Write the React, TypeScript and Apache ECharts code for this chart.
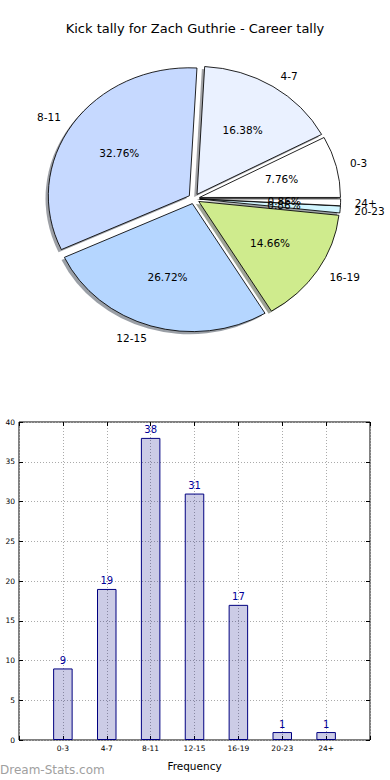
import React, { useEffect, useRef } from "react";
import * as echarts from "echarts";

const TITLE = "Kick tally for Zach Guthrie - Career tally";
const CATEGORIES = ["0-3", "4-7", "8-11", "12-15", "16-19", "20-23", "24+"];
const COUNTS = [9, 19, 38, 31, 17, 1, 1];
const PIE_COLORS = ["#ffffff", "#eaf1ff", "#c6d9ff", "#b5d6ff", "#cfeb8d", "#d2f6ff", "#ffffff"];
const X_AXIS_NAME = "Frequency";
const WATERMARK = "Dream-Stats.com";

const FONT = "'DejaVu Sans', sans-serif";

// pie geometry (elliptical, matplotlib style)
const CX = 194;
const CY = 198.7;
const RX = 141;
const RY = 128;
const EXPLODE = 0.04;
const SHADOW_DX = -0.02 * RX;
const SHADOW_DY = 0.02 * RY;

const TOTAL = COUNTS.reduce((a, b) => a + b, 0);
const STARTS: number[] = [];
{
  let acc = 0;
  COUNTS.forEach((v) => {
    STARTS.push(acc);
    acc += v;
  });
}

function shade(hex: string, f: number) {
  const n = parseInt(hex.slice(1), 16);
  const r = Math.round(((n >> 16) & 255) * f);
  const g = Math.round(((n >> 8) & 255) * f);
  const b = Math.round((n & 255) * f);
  return `rgb(${r},${g},${b})`;
}

const tickStyle = { show: true, inside: true, length: 4, lineStyle: { color: "#000" } };
const gridLine = { show: true, lineStyle: { color: "#aaaaaa", type: [1, 2], width: 1 } };

export default function App() {
  const ref = useRef<HTMLDivElement>(null);
  useEffect(() => {
    if (!ref.current) return;
    const chart = echarts.init(ref.current, null, { renderer: "svg" });
    const option: any = {
      animation: false,
      backgroundColor: "#ffffff",
      title: {
        text: TITLE,
        left: "center",
        top: 22,
        padding: 0,
        textStyle: { fontFamily: FONT, fontSize: 13, fontWeight: "normal", color: "#000" },
      },
      graphic: [
        {
          type: "text",
          left: 0,
          top: 764,
          style: { text: WATERMARK, fill: "#a0a0a0", fontSize: 12, fontFamily: FONT },
        },
      ],
      grid: {
        left: 19,
        right: 20,
        top: 422,
        bottom: 40,
        show: true,
        borderColor: "#000",
        borderWidth: 1,
        backgroundColor: "transparent",
      },
      xAxis: [
        {
          type: "value",
          min: -1,
          max: 7,
          interval: 1,
          position: "bottom",
          name: X_AXIS_NAME,
          nameLocation: "middle",
          nameGap: 20,
          nameTextStyle: { fontFamily: FONT, fontSize: 10.5, color: "#000" },
          axisLine: { show: false, onZero: false },
          axisTick: tickStyle,
          axisLabel: {
            fontFamily: FONT,
            fontSize: 7.5,
            color: "#000",
            margin: 4,
            formatter: (v: number) => CATEGORIES[v] ?? "",
          },
          splitLine: gridLine,
        },
        {
          type: "value",
          min: -1,
          max: 7,
          interval: 1,
          position: "top",
          axisLine: { show: false, onZero: false },
          axisTick: tickStyle,
          axisLabel: { show: false },
          splitLine: { show: false },
        },
      ],
      yAxis: [
        {
          type: "value",
          min: 0,
          max: 40,
          interval: 5,
          position: "left",
          axisLine: { show: false, onZero: false },
          axisTick: tickStyle,
          axisLabel: { fontFamily: FONT, fontSize: 7.5, color: "#000", margin: 4 },
          splitLine: gridLine,
        },
        {
          type: "value",
          min: 0,
          max: 40,
          interval: 5,
          position: "right",
          axisLine: { show: false, onZero: false },
          axisTick: tickStyle,
          axisLabel: { show: false },
          splitLine: { show: false },
        },
      ],
      series: [
        {
          type: "custom",
          name: "pie",
          coordinateSystem: "none",
          data: COUNTS.map((v) => [v]),
          renderItem: (params: any, api: any) => {
            const i = params.dataIndex;
            const v = api.value(0) as number;
            const t1 = (STARTS[i] / TOTAL) * Math.PI * 2;
            const t2 = ((STARTS[i] + v) / TOTAL) * Math.PI * 2;
            const mid = (t1 + t2) / 2;
            const c = Math.cos(mid);
            const s = Math.sin(mid);
            const x0 = CX + EXPLODE * RX * c;
            const y0 = CY - EXPLODE * RY * s;
            const color = PIE_COLORS[i];
            const shape = { cx: 0, cy: 0, r: RX, r0: 0, startAngle: -t1, endAngle: -t2, clockwise: false };
            const pct = ((v / TOTAL) * 100).toFixed(2) + "%";
            return {
              type: "group",
              children: [
                {
                  type: "sector",
                  x: x0 + SHADOW_DX,
                  y: y0 + SHADOW_DY,
                  scaleY: RY / RX,
                  shape,
                  style: { fill: shade(color, 0.3), opacity: 0.5 },
                  z2: 1,
                },
                {
                  type: "sector",
                  x: x0,
                  y: y0,
                  scaleY: RY / RX,
                  shape,
                  style: { fill: color, stroke: "#000", lineWidth: 0.9 },
                  z2: 5,
                },
                {
                  type: "text",
                  x: x0 + 1.1 * RX * c,
                  y: y0 - 1.1 * RY * s,
                  style: {
                    text: CATEGORIES[i],
                    align: c >= 0 ? "left" : "right",
                    verticalAlign: "middle",
                    fontSize: 10.5,
                    fontFamily: FONT,
                    fill: "#000",
                  },
                  z2: 10,
                },
                {
                  type: "text",
                  x: x0 + 0.6 * RX * c,
                  y: y0 - 0.6 * RY * s,
                  style: {
                    text: pct,
                    align: "center",
                    verticalAlign: "middle",
                    fontSize: 10.5,
                    fontFamily: FONT,
                    fill: "#000",
                  },
                  z2: 10,
                },
              ],
            };
          },
        },
        {
          type: "bar",
          name: "bars",
          xAxisIndex: 0,
          yAxisIndex: 0,
          data: COUNTS.map((v, i) => [i, v]),
          barWidth: 19.5,
          itemStyle: { color: "rgba(0,0,128,0.2)", borderColor: "#000080", borderWidth: 1 },
          label: {
            show: true,
            position: "top",
            distance: 3,
            color: "#000099",
            fontSize: 10,
            fontFamily: FONT,
          },
        },
      ],
    };
    chart.setOption(option);
    return () => chart.dispose();
  }, []);
  return (
    <div
      ref={ref}
      style={{ position: "absolute", left: 0, top: 0, width: 390, height: 780, background: "#fff" }}
    />
  );
}
